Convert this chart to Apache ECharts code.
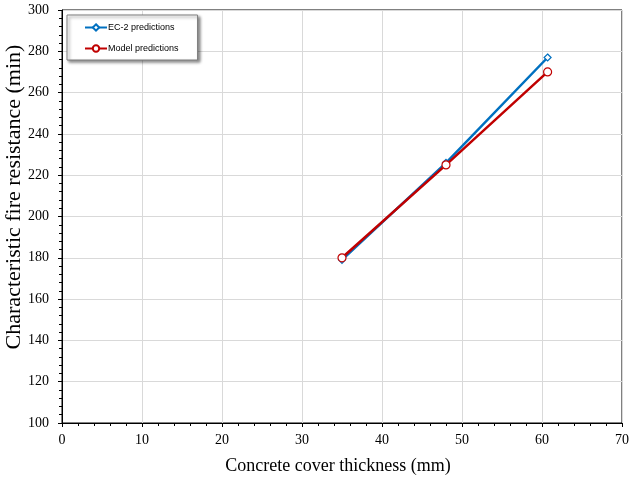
<!DOCTYPE html>
<html>
<head>
<meta charset="utf-8">
<script src="https://cdn.jsdelivr.net/npm/echarts@6/dist/echarts.min.js"></script>
<style>
  html, body { margin: 0; padding: 0; background: #fff; }
  #chart { width: 630px; height: 478px; }
</style>
</head>
<body>
<div id="chart"></div>
<script>
// Concrete cover thickness (mm)
const coverThickness = [35, 48, 60.7];
// Characteristic fire resistance (min)
const ec2Predictions = [179, 226, 277];
const modelPredictions = [180, 225, 270];

const xTicks = [0, 10, 20, 30, 40, 50, 60, 70];
const yTicks = [100, 120, 140, 160, 180, 200, 220, 240, 260, 280, 300];

const xTitle = 'Concrete cover thickness (mm)';
const yTitle = 'Characteristic fire resistance (min)';

const serif = '"Liberation Serif", "Times New Roman", serif';

const chart = echarts.init(document.getElementById('chart'), null, { renderer: 'canvas' });

const pairs = (xs, ys) => xs.map((x, i) => [x, ys[i]]);

chart.setOption({
  animation: false,
  backgroundColor: '#ffffff',
  grid: {
    left: 62, right: 8, top: 10, bottom: 55,
    containLabel: false,
    outerBoundsMode: 'none',
    show: true, borderColor: '#000', borderWidth: 1
  },
  // vertical axis title, placed by hand so it sits slightly above the plot centre
  graphic: [{
    type: 'text',
    x: 14, y: 197,
    rotation: Math.PI / 2,
    style: {
      text: yTitle,
      font: '22px ' + serif,
      fill: '#000',
      align: 'center',
      verticalAlign: 'middle'
    }
  }],
  legend: {
    orient: 'vertical',
    left: 67, top: 15,
    padding: [8, 19, 7, 17],
    itemGap: 12,
    itemWidth: 22,
    itemHeight: 8,
    backgroundColor: '#fff',
    borderColor: '#7f7f7f',
    borderWidth: 1,
    shadowColor: 'rgba(0,0,0,0.45)',
    shadowBlur: 3,
    shadowOffsetX: 2,
    shadowOffsetY: 2,
    textStyle: { fontFamily: 'Liberation Sans, Arial, sans-serif', fontSize: 9, color: '#000', padding: [0, 0, 0, -4] },
    data: ['EC-2 predictions', 'Model predictions']
  },
  xAxis: {
    type: 'value',
    min: xTicks[0], max: xTicks[xTicks.length - 1], interval: 10,
    name: xTitle,
    nameLocation: 'middle', nameGap: 34,
    nameTextStyle: { fontFamily: serif, fontSize: 18, color: '#000', padding: [0, 8, 0, 0] },
    axisLine: { show: true, onZero: false, lineStyle: { color: '#000', width: 1 } },
    axisTick: { show: true, inside: false, length: 4, lineStyle: { color: '#000' } },
    minorTick: { show: true, splitNumber: 5, length: 3, lineStyle: { color: '#000' } },
    axisLabel: { fontFamily: serif, fontSize: 14, color: '#000', margin: 10 },
    splitLine: { show: true, lineStyle: { color: '#d9d9d9', width: 1 } }
  },
  yAxis: {
    type: 'value',
    min: yTicks[0], max: yTicks[yTicks.length - 1], interval: 20,
    axisLine: { show: true, onZero: false, lineStyle: { color: '#000', width: 1 } },
    axisTick: { show: true, inside: false, length: 4, lineStyle: { color: '#000' } },
    minorTick: { show: true, splitNumber: 5, length: 3, lineStyle: { color: '#000' } },
    axisLabel: { fontFamily: serif, fontSize: 14, color: '#000', margin: 13 },
    splitLine: { show: true, lineStyle: { color: '#d9d9d9', width: 1 } }
  },
  series: [
    {
      name: 'EC-2 predictions',
      type: 'line',
      data: pairs(coverThickness, ec2Predictions),
      symbol: 'diamond', symbolSize: 7,
      showAllSymbol: true,
      lineStyle: { color: '#0070C0', width: 2.5 },
      itemStyle: { color: '#ffffff', borderColor: '#0070C0', borderWidth: 1.2 },
      z: 2
    },
    {
      name: 'Model predictions',
      type: 'line',
      data: pairs(coverThickness, modelPredictions),
      symbol: 'circle', symbolSize: 8,
      lineStyle: { color: '#C00000', width: 2.5 },
      itemStyle: { color: '#ffffff', borderColor: '#C00000', borderWidth: 1.2 },
      z: 3
    }
  ]
});
</script>
</body>
</html>
